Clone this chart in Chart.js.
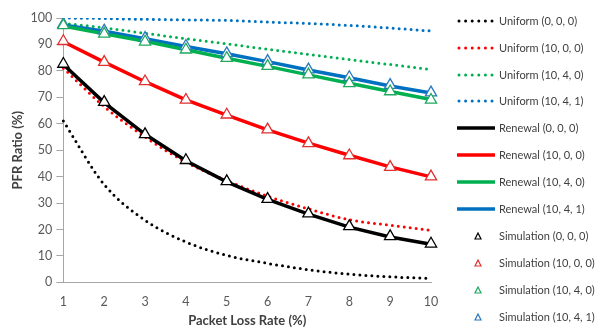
<!DOCTYPE html>
<html>
<head>
<meta charset="utf-8">
<script src="https://cdn.jsdelivr.net/npm/chart.js@4.4.0/dist/chart.umd.min.js"></script>
<style>
  html, body { margin: 0; padding: 0; background: #fff; }
  #wrap { width: 605px; height: 331px; position: relative; }
  #legend { position: absolute; left: 0; top: 0; width: 605px; height: 331px; pointer-events: none; }
  .lg-item { position: absolute; left: 457px; height: 16px; width: 148px; }
  .lg-item svg { position: absolute; left: 0; top: 4px; }
  .lg-item span {
      position: absolute; left: 42px; top: 0; line-height: 16px;
      font-family: Lato, "Open Sans", sans-serif; font-size: 11px;
      color: #404040; white-space: nowrap;
  }
</style>
</head>
<body>
<div id="wrap">
  <canvas id="pfrChart"></canvas>
  <div id="legend"></div>
</div>
<script>
// Taux de perte (axe X)
const lossRates = ['1', '2', '3', '4', '5', '6', '7', '8', '9', '10'];

// Modèle uniforme (pointillés)
const uniform000 = [61, 37, 23.5, 15.3, 10.2, 7.2, 4.8, 3.1, 2.1, 1.5];
const uniform1000 = [81, 66.5, 55, 45.5, 38.5, 32.6, 27.8, 23.7, 21.6, 19.7];
const uniform1040 = [98, 96.3, 94.2, 92.2, 90.2, 88.2, 86.2, 84.3, 82.4, 80.5];
const uniform1041 = [100, 99.8, 99.5, 99.3, 99.1, 98.5, 97.9, 97.2, 96.2, 95.1];

// Modèle renouvellement (traits pleins)
const renewal000 = [82.4, 68, 56, 46, 38, 31.4, 25.8, 20.9, 17.2, 14.4];
const renewal1000 = [91, 83.3, 75.9, 69, 63.3, 57.7, 52.7, 48.1, 43.7, 39.9];
const renewal1040 = [97, 94, 91.2, 88, 84.8, 81.7, 78.5, 75.3, 72.2, 69.2];
const renewal1041 = [97.4, 95, 92.2, 89.2, 86.5, 83.5, 80.3, 77.4, 74.3, 71.6];

// Simulation (triangles)
const sim000 = [82.6, 68.2, 56, 46.2, 38.2, 31.5, 26, 21.2, 17.4, 14.6];
const sim1000 = [91.2, 83.3, 76, 69, 63.4, 57.8, 52.6, 48, 43.6, 40];
const sim1040 = [97.2, 94, 91, 88, 84.8, 81.8, 78.6, 75.3, 72.2, 69];
const sim1041 = [97.6, 95.2, 92.4, 89.4, 86.6, 83.7, 80.5, 77.6, 74.6, 71.8];

const BLACK = '#000000';
const RED = '#ff0000';
const GREEN = '#00b050';
const BLUE = '#0070c0';

const FONT = 'Lato, "Open Sans", sans-serif';

function dotted(label, data, color) {
    return {
        label, data,
        borderColor: color,
        backgroundColor: color,
        borderWidth: 3,
        borderDash: [0, 6],
        borderCapStyle: 'round',
        cubicInterpolationMode: 'monotone',
        pointRadius: 0,
        fill: false,
        order: 2,
        kind: 'dotted'
    };
}

function solid(label, data, color) {
    return {
        label, data,
        borderColor: color,
        backgroundColor: color,
        borderWidth: 3.5,
        tension: 0,
        pointRadius: 0,
        fill: false,
        order: 1,
        kind: 'solid'
    };
}

function sim(label, data, color) {
    return {
        label, data,
        borderColor: color,
        backgroundColor: '#ffffff',
        showLine: false,
        pointStyle: 'triangle',
        pointRadius: 6.5,
        pointBorderWidth: 1.3,
        pointBackgroundColor: '#ffffff',
        pointBorderColor: color,
        order: 0,
        kind: 'sim'
    };
}

const datasets = [
    dotted('Uniform (0, 0, 0)', uniform000, BLACK),
    dotted('Uniform (10, 0, 0)', uniform1000, RED),
    dotted('Uniform (10, 4, 0)', uniform1040, GREEN),
    dotted('Uniform (10, 4, 1)', uniform1041, BLUE),
    solid('Renewal (0, 0, 0)', renewal000, BLACK),
    solid('Renewal (10, 0, 0)', renewal1000, RED),
    solid('Renewal (10, 4, 0)', renewal1040, GREEN),
    solid('Renewal (10, 4, 1)', renewal1041, BLUE),
    sim('Simulation (0, 0, 0)', sim000, BLACK),
    sim('Simulation (10, 0, 0)', sim1000, '#e03030'),
    sim('Simulation (10, 4, 0)', sim1040, '#20a860'),
    sim('Simulation (10, 4, 1)', sim1041, '#2a78c0')
];

// ---- Légende HTML (à droite, style Excel) ----
function buildLegend() {
    const box = document.getElementById('legend');
    datasets.forEach((ds, i) => {
        const item = document.createElement('div');
        item.className = 'lg-item';
        item.style.top = (20.7 + i * 26.9 - 8) + 'px';
        let sample;
        if (ds.kind === 'sim') {
            sample = `<svg width="38" height="8"><polygon points="21,1 24,7 18,7"
                fill="#fff" stroke="${ds.borderColor}" stroke-width="1.2"/></svg>`;
        } else if (ds.kind === 'dotted') {
            sample = `<svg width="38" height="8"><line x1="2" y1="4" x2="37" y2="4"
                stroke="${ds.borderColor}" stroke-width="3" stroke-linecap="round"
                stroke-dasharray="0 6.6"/></svg>`;
        } else {
            sample = `<svg width="38" height="8"><line x1="0" y1="4" x2="38" y2="4"
                stroke="${ds.borderColor}" stroke-width="3.5"/></svg>`;
        }
        item.innerHTML = sample + `<span>${ds.label}</span>`;
        box.appendChild(item);
    });
}

new Chart(document.getElementById('pfrChart'), {
    type: 'line',
    data: { labels: lossRates, datasets },
    options: {
        responsive: true,
        maintainAspectRatio: false,
        animation: false,
        layout: { padding: { top: 18, right: 174, left: 3, bottom: 0 } },
        plugins: {
            tooltip: { enabled: false },
            legend: { display: false }
        },
        scales: {
            x: {
                offset: false,
                grid: { display: false, drawTicks: false, tickLength: 0 },
                border: { display: true, color: '#a6a6a6', width: 1 },
                ticks: { color: '#595959', font: { family: FONT, size: 12.5 }, padding: 12, maxRotation: 0 },
                title: {
                    display: true,
                    text: 'Packet Loss Rate (%)',
                    color: '#404040',
                    font: { family: FONT, size: 13, weight: 'bold' },
                    padding: { top: -8, bottom: 2 }
                }
            },
            y: {
                min: 0,
                max: 100,
                grid: { drawOnChartArea: false, drawTicks: true, tickLength: 7, color: '#a6a6a6' },
                border: { display: true, color: '#a6a6a6', width: 1 },
                ticks: { stepSize: 10, color: '#595959', font: { family: FONT, size: 12.5 }, padding: 4 },
                title: {
                    display: true,
                    text: 'PFR Ratio (%)',
                    color: '#404040',
                    font: { family: FONT, size: 13, weight: 'bold' },
                    padding: { top: 7, bottom: 1 }
                }
            }
        }
    }
});

buildLegend();
</script>
</body>
</html>
